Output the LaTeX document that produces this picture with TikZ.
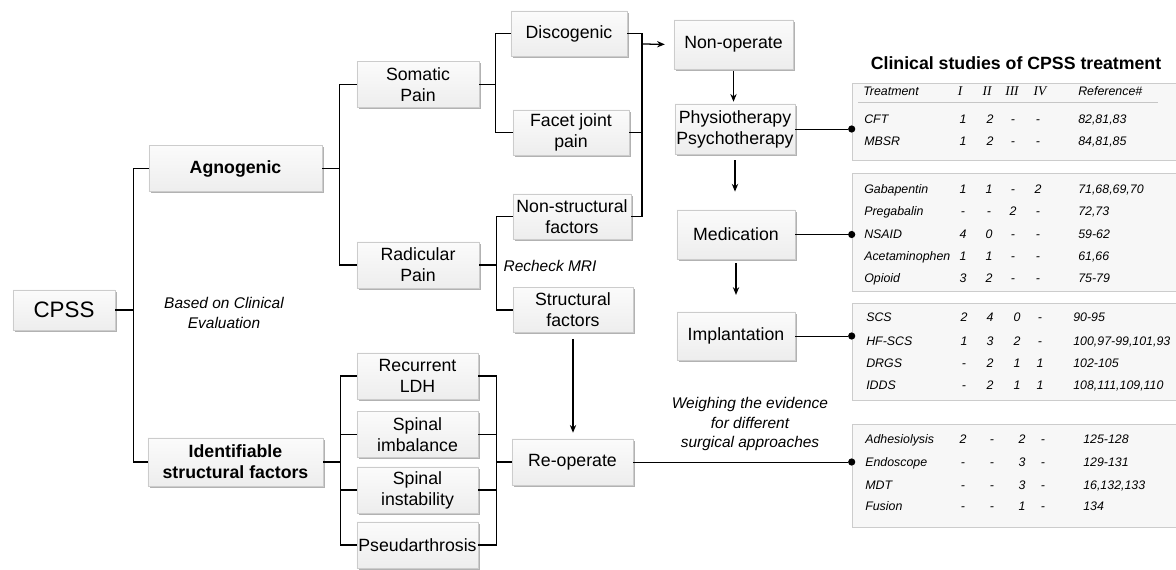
\documentclass[tikz,border=0pt]{standalone}
\usepackage{fontspec}
\setmainfont{Liberation Sans}
\newfontfamily\numeralfont{Liberation Serif}
\usetikzlibrary{positioning, arrows.meta, shadows}

\begin{document}
\begin{tikzpicture}[
    x=0.025cm, y=-0.025cm,
    box/.style={rectangle, draw=gray!40, top color=gray!3, bottom color=gray!14, align=center, inner sep=1pt,
        font=\fontsize{12.6}{15}\selectfont,
        drop shadow={shadow xshift=1.3pt, shadow yshift=-1.3pt, fill=black, opacity=0.3}},
    tablebox/.style={rectangle, draw=gray!40, fill=gray!6, minimum width=8.15cm},
    note/.style={font=\fontsize{11}{14.2}\selectfont\itshape, align=center},
    cell/.style={font=\fontsize{8.8}{10}\selectfont\itshape, inner sep=0pt, anchor=base},
    numeral/.style={font=\fontsize{9.5}{10}\selectfont\numeralfont\itshape, inner sep=0pt, anchor=base},
    dot/.style={circle, fill=black, inner sep=0pt, minimum size=0.18cm},
    link/.style={line width=0.9pt},
    thinlink/.style={line width=0.6pt},
    arrow/.style={line width=0.9pt, -{Stealth[length=5.5pt, width=4.5pt]}}
]

\useasboundingbox (0,0) rectangle (1176,570);

% Left tree
\node (cpss) [box, minimum width=2.55cm, minimum height=1cm, font=\fontsize{15.9}{18}\selectfont] at (64,310) {CPSS};
\node (agno) [box, minimum width=4.33cm, minimum height=1.15cm, font=\fontsize{12.6}{15}\selectfont\bfseries] at (235.5,168.5) {Agnogenic};
\node (ident) [box, minimum width=4.38cm, minimum height=1.2cm, font=\fontsize{12.6}{15}\selectfont\bfseries] at (235.5,462) {Identifiable\\structural factors};
\node (basedon) [note] at (224,313) {Based on Clinical\\Evaluation};

\node (somatic) [box, minimum width=3.05cm, minimum height=1.15cm] at (418,84.5) {Somatic\\Pain};
\node (radicular) [box, minimum width=3.05cm, minimum height=1.15cm] at (418,265) {Radicular\\Pain};

\node (disco) [box, minimum width=2.9cm, minimum height=1.13cm] at (569,33.5) {Discogenic};
\node (facet) [box, minimum width=2.9cm, minimum height=1.13cm] at (571,132.5) {Facet joint\\pain};
\node (nonstruct) [box, minimum width=2.95cm, minimum height=1.13cm] at (572,216.5) {Non-structural\\factors};
\node (struct) [box, minimum width=3.0cm, minimum height=1.13cm] at (573,310) {Structural\\factors};
\node (recheck) [note] at (550,266) {Recheck MRI};

\node (recurrent) [box, minimum width=3.03cm, minimum height=1.15cm] at (417.5,376) {Recurrent\\LDH};
\node (imbalance) [box, minimum width=3.03cm, minimum height=1.15cm] at (417.5,434.5) {Spinal\\imbalance};
\node (instability) [box, minimum width=3.03cm, minimum height=1.15cm] at (417.5,490) {Spinal\\instability};
\node (pseud) [box, minimum width=3.03cm, minimum height=1.15cm] at (417.5,545) {Pseudarthrosis};
\node (reop) [box, minimum width=3.03cm, minimum height=1.15cm] at (572.5,462) {Re-operate};

% Treatment ladder
\node (nonop) [box, minimum width=2.98cm, minimum height=1.23cm] at (733.5,44.5) {Non-operate};
\node (physio) [box, minimum width=3.0cm, minimum height=1.25cm] at (735,129) {Physiotherapy\\Psychotherapy};
\node (medication) [box, minimum width=2.95cm, minimum height=1.23cm] at (736,234.5) {Medication};
\node (implant) [box, minimum width=2.95cm, minimum height=1.2cm] at (736,336) {Implantation};
\node (weigh) [note] at (750,424) {Weighing the evidence\\for different\\surgical approaches};

\coordinate (merge) at (642,44);

% Tables
\node (title) [font=\fontsize{12.6}{15}\selectfont\bfseries] at (1016,63) {Clinical studies of CPSS treatment};
\node (tab1) [tablebox, minimum height=1.925cm] at (1015,121.5) {};
\node (tab2) [tablebox, minimum height=2.95cm] at (1015,232) {};
\node (tab3) [tablebox, minimum height=2.43cm] at (1015,352) {};
\node (tab4) [tablebox, minimum height=2.58cm] at (1015,475.5) {};

\node (head) [cell, anchor=base west] at (863,96) {Treatment};
\node (headI) [numeral] at (960,96) {I};
\node (headII) [numeral] at (987,96) {II};
\node (headIII) [numeral] at (1012,96) {III};
\node (headIV) [numeral] at (1040,96) {IV};
\node (headref) [cell, anchor=base west] at (1078,96) {Reference\#};
\draw[gray!45, line width=0.5pt] (858,102) -- (1158,102);

\foreach \y/\name/\ca/\cb/\cc/\cd/\refs [count=\i] in {
    {124/CFT/1/2/-/-/82,81,83},
    {146/MBSR/1/2/-/-/84,81,85}} {
  \node (phy\i) [cell, anchor=base west] at (864,\y) {\name};
  \node (phy\i-a) [cell] at (963,\y) {\ca};
  \node (phy\i-b) [cell] at (990,\y) {\cb};
  \node (phy\i-c) [cell] at (1013,\y) {\cc};
  \node (phy\i-d) [cell] at (1038,\y) {\cd};
  \node (phy\i-r) [cell, anchor=base west] at (1078,\y) {\refs};
}

\foreach \y/\name/\ca/\cb/\cc/\cd/\refs [count=\i] in {
    {194/Gabapentin/1/1/-/2/71,68,69,70},
    {216/Pregabalin/-/-/2/-/72,73},
    {239/NSAID/4/0/-/-/59-62},
    {261/Acetaminophen/1/1/-/-/61,66},
    {282/Opioid/3/2/-/-/75-79}} {
  \node (med\i) [cell, anchor=base west] at (864,\y) {\name};
  \node (med\i-a) [cell] at (963,\y) {\ca};
  \node (med\i-b) [cell] at (989,\y) {\cb};
  \node (med\i-c) [cell] at (1013,\y) {\cc};
  \node (med\i-d) [cell] at (1038,\y) {\cd};
  \node (med\i-r) [cell, anchor=base west] at (1078,\y) {\refs};
}

\foreach \y/\name/\ca/\cb/\cc/\cd/\refs [count=\i] in {
    {321/SCS/2/4/0/-/90-95},
    {345/HF-SCS/1/3/2/-/100,97-99,101,93},
    {367/DRGS/-/2/1/1/102-105},
    {389/IDDS/-/2/1/1/108,111,109,110}} {
  \node (imp\i) [cell, anchor=base west] at (866,\y) {\name};
  \node (imp\i-a) [cell] at (964,\y) {\ca};
  \node (imp\i-b) [cell] at (990,\y) {\cb};
  \node (imp\i-c) [cell] at (1017,\y) {\cc};
  \node (imp\i-d) [cell] at (1040,\y) {\cd};
  \node (imp\i-r) [cell, anchor=base west] at (1073,\y) {\refs};
}

\foreach \y/\name/\ca/\cb/\cc/\cd/\refs [count=\i] in {
    {443/Adhesiolysis/2/-/2/-/125-128},
    {466/Endoscope/-/-/3/-/129-131},
    {489/MDT/-/-/3/-/16,132,133},
    {510/Fusion/-/-/1/-/134}} {
  \node (sur\i) [cell, anchor=base west] at (865,\y) {\name};
  \node (sur\i-a) [cell] at (963,\y) {\ca};
  \node (sur\i-b) [cell] at (992,\y) {\cb};
  \node (sur\i-c) [cell] at (1022,\y) {\cc};
  \node (sur\i-d) [cell] at (1043,\y) {\cd};
  \node (sur\i-r) [cell, anchor=base west] at (1083,\y) {\refs};
}

\node (dot1) [dot] at (tab1.west |- physio) {};
\node (dot2) [dot] at (tab2.west |- medication) {};
\node (dot3) [dot] at (tab3.west |- implant) {};
\node (dot4) [dot] at (tab4.west |- reop) {};

% Edges
\draw[link] (cpss.east) -- ++(18,0) |- (agno.west);
\draw[link] (cpss.east) -- ++(18,0) |- (ident.west);
\draw[link] (agno.east) -- ++(17,0) |- (somatic.west);
\draw[link] (agno.east) -- ++(17,0) |- (radicular.west);
\draw[link] (somatic.east) -- ++(16,0) |- (disco.west);
\draw[link] (somatic.east) -- ++(16,0) |- (facet.west);
\draw[link] (radicular.east) -- ++(17,0) |- (nonstruct.west);
\draw[link] (radicular.east) -- ++(17,0) |- (struct.west);

\draw[link] (disco.east) -| (merge) |- (nonstruct.east);
\draw[link] (facet.east) -- (merge |- facet.east);
\draw[arrow, shorten >=0.22cm] (merge) -- (nonop.west);

\foreach \n in {recurrent, imbalance, instability, pseud} {
  \draw[link] (ident.east) -- ++(17,0) |- (\n.west);
  \draw[link] (\n.east) -- ++(18,0) |- (reop.west);
}

\draw[arrow, shorten <=0.05cm, shorten >=0.05cm] (nonop.south) -- (nonop.south |- physio.north);
\draw[arrow, shorten <=0.15cm, shorten >=0.45cm] (physio.south) -- (physio.south |- medication.north);
\draw[arrow, shorten <=0.1cm, shorten >=0.42cm] (medication.south) -- (medication.south |- implant.north);
\draw[arrow, shorten <=0.15cm, shorten >=0.15cm] (struct.south) -- (struct.south |- reop.north);

\draw[thinlink] (physio.east) -- (dot1);
\draw[thinlink] (medication.east) -- (dot2);
\draw[thinlink] (implant.east) -- (dot3);
\draw[thinlink] (reop.east) -- (dot4);

\end{tikzpicture}
\end{document}
